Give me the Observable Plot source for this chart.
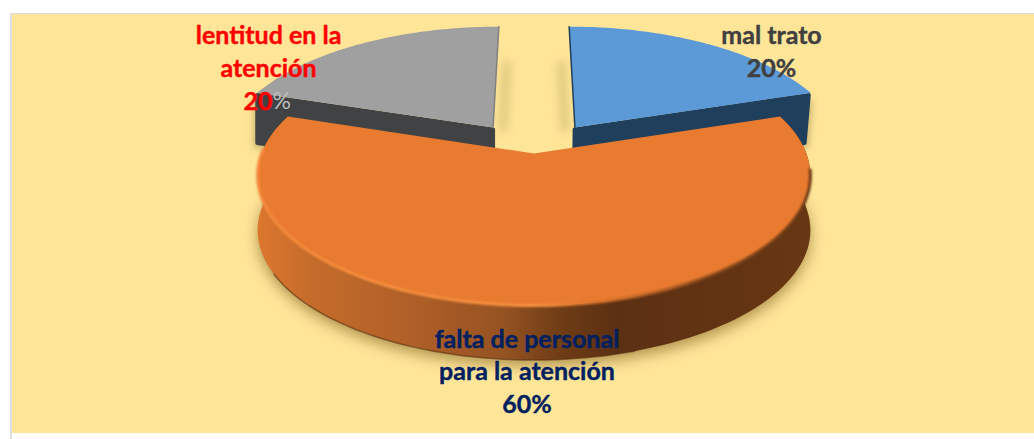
<!DOCTYPE html>
<html><head><meta charset="utf-8">
<style>html,body{margin:0;padding:0;background:#fff}svg{display:block}</style>
<script src="https://cdn.jsdelivr.net/npm/d3@7"></script>
<script src="https://cdn.jsdelivr.net/npm/@observablehq/plot@0.6"></script>
</head><body><div id="chart"></div>
<script>
const categories = ["mal trato", "falta de personal para la atención", "lentitud en la atención"];
const shares = [20, 60, 20];
const labelLines = [["mal trato"], ["falta de personal", "para la atención"], ["lentitud en la", "atención"]];

// camera of the tilted pie
const cam = {cx: 533.5, cy: 153, f: 1596, g: 739, d: 5.86, depth: 54.5};
const burst = [0.265, 0, 0.265];
const project = (X, Z, dy = 0) => [
  cam.cx + cam.f * X / (cam.d + Z),
  cam.cy - cam.g * Z / (cam.d + Z) + dy
];
const total = d3.sum(shares);
let acc = 0;
const slices = shares.map((v, i) => {
  const a0 = acc / total * 2 * Math.PI; acc += v;
  const a1 = acc / total * 2 * Math.PI, mid = (a0 + a1) / 2;
  const ox = burst[i] * Math.sin(mid), oz = burst[i] * Math.cos(mid);
  const arc = d3.range(0, 121).map(k => {
    const a = a0 + (a1 - a0) * k / 120;
    return [ox + Math.sin(a), oz + Math.cos(a)];
  });
  return {i, arc, apex: [ox, oz], a0, a1};
});
const xy = (pts, dy = 0) => pts.map(([X, Z]) => project(X, Z, dy));
const face = s => xy([s.apex, ...s.arc, s.apex]);
const rimWall = s => {
  const t = xy(s.arc), bot = xy(s.arc, cam.depth).reverse();
  return [...t, ...bot, t[0]];
};
// the raised slices' walls: a rounded block under the straight outer edge
const edgeBlock = (s, outer, kTop, kBottom) => {
  const [ax, ay] = project(...s.apex), [bx, by] = project(...outer);
  const d = 50, sq = (p, k) => cam.cx + (p - cam.cx) * k;
  return [[sq(ax, kTop), ay + 2], [sq(bx, kTop), by + 2], [sq(bx, kBottom), by + d], [sq(ax, kBottom), ay + d], [sq(ax, kTop), ay + 2]];
};

const [blue, orange, gray] = slices;
const poly = (pts, o) => Plot.line(pts, {x: d => d[0], y: d => d[1], stroke: "none", ...o});
const outline = (pts, o) => Plot.line(pts, {x: d => d[0], y: d => d[1], fill: "none", ...o});
const along = (a, b, t0, t1) => [t0, t1].map(t => [a[0] + (b[0] - a[0]) * t, a[1] + (b[1] - a[1]) * t]);

const defs = () => {
  const ns = "http://www.w3.org/2000/svg";
  const g = document.createElementNS(ns, "defs");
  g.innerHTML = `
  <linearGradient id="orangeWall" gradientUnits="userSpaceOnUse" x1="255" x2="810" y1="0" y2="0">
    <stop offset="0" stop-color="#dd772d"/><stop offset=".1" stop-color="#c56c2b"/>
    <stop offset=".3" stop-color="#ad5e27"/><stop offset=".45" stop-color="#955222"/>
    <stop offset=".55" stop-color="#6e3c15"/><stop offset=".65" stop-color="#5c3013"/><stop offset="1" stop-color="#683713"/>
  </linearGradient>
  <linearGradient id="orangeRim" gradientUnits="userSpaceOnUse" x1="255" x2="810" y1="0" y2="0">
    <stop offset="0" stop-color="#f58a3c"/><stop offset=".5" stop-color="#f6913f"/>
    <stop offset=".62" stop-color="#d8722b"/><stop offset=".8" stop-color="#8b4a1c"/><stop offset="1" stop-color="#6b3a16"/>
  </linearGradient>`;
  return g;
};

const label = {fontFamily: "Lato", fontWeight: 700, fontSize: 25, text: d => d, strokeWidth: 0.4};
const blueBlock = edgeBlock(blue, blue.arc[120], 0.993, 0.978);
const grayBlock = edgeBlock(gray, gray.arc[0], 1, 1);
const chart = Plot.plot({
  width: 1034, height: 439, margin: 0,
  x: {type: "identity", axis: null}, y: {type: "identity", axis: null},
  style: {background: "#fff", overflow: "hidden"},
  marks: [
    defs,
    Plot.rect([0], {x1: 10, x2: 12, y1: 13, y2: 439, fill: "#dfdfdf"}),
    Plot.rect([0], {x1: 10, x2: 1034, y1: 13, y2: 14, fill: "#dddddd"}),
    Plot.rect([0], {x1: 12, x2: 1034, y1: 14, y2: 433, fill: "#fee598"}),
    // soft shadows
    poly(xy(orange.arc, cam.depth + 6), {fill: "#8a6a2a", fillOpacity: 0.65, imageFilter: "blur(7px)"}),
    outline(along(project(...gray.apex), project(...gray.arc[120]), 0, 0.62), {stroke: "#b09a58", strokeOpacity: 0.42, strokeWidth: 8, dx: 10, imageFilter: "blur(4px)"}),
    outline(along(project(...blue.apex), project(...blue.arc[0]), 0, 0.62), {stroke: "#b09a58", strokeOpacity: 0.42, strokeWidth: 8, dx: -10, imageFilter: "blur(4px)"}),
    poly(blueBlock, {fill: "#a08a50", fillOpacity: 0.5, dx: 4, dy: 5, imageFilter: "blur(3px)"}),
    poly(grayBlock, {fill: "#a08a50", fillOpacity: 0.5, dx: -4, dy: 5, imageFilter: "blur(3px)"}),
    // raised slices
    poly(blueBlock, {fill: "#1f3f5c", stroke: "#1f3f5c", strokeWidth: 4, strokeLinejoin: "round"}),
    poly(face(blue), {fill: "#5b9ad6"}),
    outline(xy([blue.apex, blue.arc[0]]), {stroke: "#1f3f5c", strokeWidth: 1.5}),
    poly(grayBlock, {fill: "#404243", stroke: "#404243", strokeWidth: 4, strokeLinejoin: "round"}),
    poly(face(gray), {fill: "#a0a0a0"}),
    outline(xy([gray.apex, gray.arc[120]]), {stroke: "#808080", strokeWidth: 1.5}),
    // large slice
    poly(rimWall(orange), {fill: "url(#orangeWall)"}),
    outline(xy(orange.arc.slice(50, 95), cam.depth), {stroke: "#5a3010", strokeOpacity: 0.6, strokeWidth: 1.5, imageFilter: "blur(0.5px)"}),
    poly(face(orange), {fill: "#e97b30"}),
    outline(xy(orange.arc.slice(14, 112)), {stroke: "url(#orangeRim)", strokeWidth: 3, imageFilter: "blur(1px)"}),
    // labels
    Plot.text(labelLines[2], {...label, x: 268, y: (d, i) => 35 + i * 33, fill: "#ff0000", stroke: "#ff0000"}),
    Plot.text([shares[2]], {...label, x: 272, y: 101, textAnchor: "end", fill: "#ff0000", stroke: "#ff0000"}),
    Plot.text(["%"], {...label, x: 272, y: 101, fontWeight: 400, fontSize: 23, textAnchor: "start", fill: "#bdbdbd", strokeWidth: 0}),
    Plot.text([labelLines[0][0], shares[0] + "%"], {...label, x: 771, y: (d, i) => 35 + i * 33, fill: "#404040", stroke: "#404040"}),
    Plot.text([...labelLines[1], shares[1] + "%"], {...label, x: 526.5, y: (d, i) => 339 + i * 32.5, fill: "#002060", stroke: "#002060"})
  ]
});
document.getElementById("chart").append(chart);
</script></body></html>
